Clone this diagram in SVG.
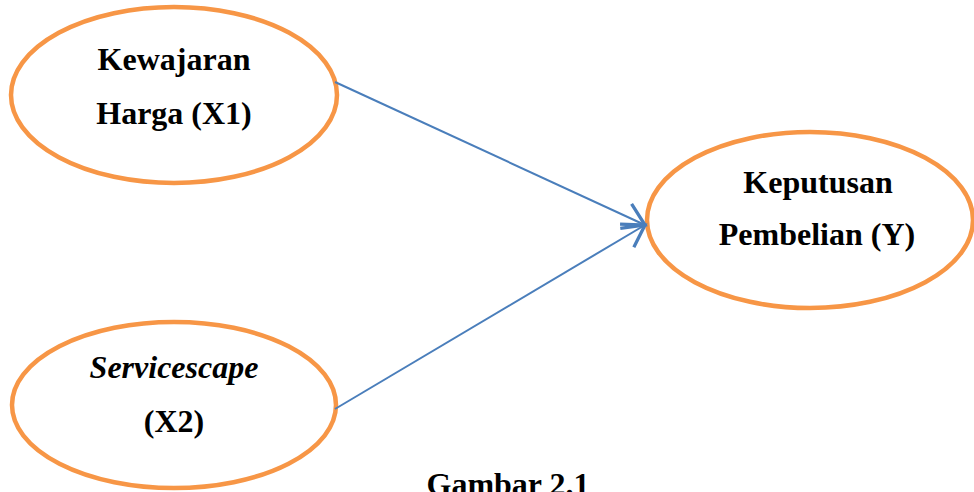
<svg xmlns="http://www.w3.org/2000/svg" width="974" height="492" viewBox="0 0 974 492">
<style>
.node ellipse{fill:#ffffff;stroke:#F79646;stroke-width:4.5}
.lbl{font-family:"Liberation Serif","Times New Roman",serif;font-weight:bold;font-size:32px;fill:#000;text-anchor:middle}
.it{font-style:italic}
.conn line{stroke:#4A7EBB;stroke-width:2}
</style>
<defs>
<marker id="arr" markerUnits="userSpaceOnUse" markerWidth="30" markerHeight="30" refX="16" refY="10" orient="auto" viewBox="0 0 20 20">
<path d="M2,1 L16,10 L2,19" fill="none" stroke="#4A7EBB" stroke-width="2.2"/>
</marker>
</defs>
<rect width="974" height="492" fill="#ffffff"/>
<g id="node-x1" class="node">
<ellipse cx="174" cy="95" rx="163" ry="88"/>
<text class="lbl" x="174" y="70">Kewajaran</text>
<text class="lbl" x="174" y="124">Harga (X1)</text>
</g>
<g id="node-x2" class="node">
<ellipse cx="174" cy="405" rx="162" ry="83"/>
<text class="lbl it" x="174" y="378">Servicescape</text>
<text class="lbl" x="174" y="432">(X2)</text>
</g>
<g id="node-y" class="node">
<ellipse cx="810" cy="220" rx="163" ry="88"/>
<text class="lbl" x="818" y="193">Keputusan</text>
<text class="lbl" x="817" y="245">Pembelian (Y)</text>
</g>
<g id="connectors" class="conn">
<line x1="335" y1="82" x2="645" y2="225" marker-end="url(#arr)"/>
<line x1="335" y1="409" x2="645" y2="225" marker-end="url(#arr)"/>
</g>
<text id="caption" class="lbl" x="508" y="495">Gambar 2.1</text>
</svg>
